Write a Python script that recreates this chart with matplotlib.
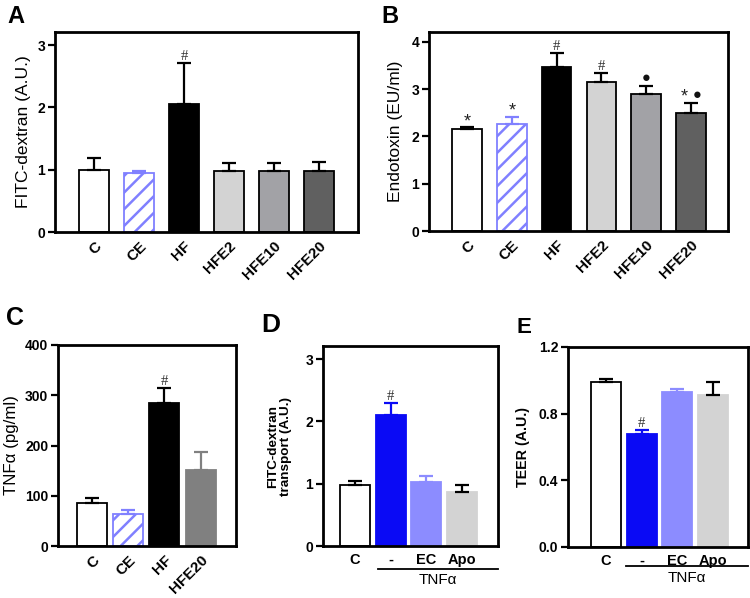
import matplotlib
matplotlib.use("Agg")
import matplotlib.pyplot as plt
import matplotlib.transforms as mtrans
import numpy as np

plt.rcParams['font.family'] = ['Liberation Sans', 'DejaVu Sans']

# ---------------- data ----------------
a_cats = ["C", "CE", "HF", "HFE2", "HFE10", "HFE20"]
a_vals = [1.00, 0.95, 2.05, 0.98, 0.98, 0.98]
a_errs = [0.18, 0.03, 0.67, 0.12, 0.13, 0.15]
a_marks = ["", "", "#", "", "", ""]

b_cats = ["C", "CE", "HF", "HFE2", "HFE10", "HFE20"]
b_vals = [2.15, 2.27, 3.48, 3.16, 2.89, 2.49]
b_errs = [0.04, 0.15, 0.28, 0.19, 0.17, 0.22]
b_marks = ["*", "*", "#", "#", "\u25CF", "*\u25CF"]

c_cats = ["C", "CE", "HF", "HFE20"]
c_vals = [85, 64, 284, 151]
c_errs = [11, 8, 31, 36]
c_marks = ["", "", "#", ""]

d_cats = ["C", "-", "EC", "Apo"]
d_vals = [0.98, 2.10, 1.02, 0.87]
d_errs = [0.07, 0.20, 0.10, 0.11]
d_marks = ["", "#", "", ""]

e_cats = ["C", "-", "EC", "Apo"]
e_vals = [0.99, 0.68, 0.93, 0.91]
e_errs = [0.02, 0.02, 0.02, 0.08]
e_marks = ["", "#", "", ""]

group_label = "TNF\u03b1"

W, H = 750, 598
fig = plt.figure(figsize=(W / 100, H / 100), dpi=100)


def add_ax(l, t, r, b):
    return fig.add_axes([l / W, 1 - b / H, (r - l) / W, (b - t) / H])


def style(ax, xlim, ylim, yticks, ylabel, ylabel_kw, labelpad, ytick_fs=10, fmt=None):
    ax.set_xlim(*xlim)
    ax.set_ylim(*ylim)
    ax.set_yticks(yticks)
    if fmt:
        ax.set_yticklabels([fmt.format(v) for v in yticks])
    for s in ax.spines.values():
        s.set_linewidth(2.0)
    ax.tick_params(axis='y', direction='out', length=5, width=1.6, labelsize=ytick_fs, pad=2)
    ax.tick_params(axis='x', length=0, pad=5)
    for lab in ax.get_yticklabels():
        lab.set_fontweight('bold')
    ax.set_ylabel(ylabel, labelpad=labelpad, **ylabel_kw)


def put_marks(ax, x, y, m):
    if m == "#":
        ax.text(x, y, m, ha='center', va='bottom', fontsize=10.5,
                family='Liberation Serif', color='#333333')
        return
    n = len(m)
    for k, ch in enumerate(m):
        dx = (k - (n - 1) / 2) * 9
        if ch == "*":
            ax.annotate(ch, (x, y), xytext=(dx, -2), textcoords='offset points',
                        ha='center', va='bottom', fontsize=13, color='#222222')
        else:
            ax.annotate(ch, (x, y), xytext=(dx, 1), textcoords='offset points',
                        ha='center', va='bottom', fontsize=10.5, color='#111111')


def draw_bars(ax, vals, errs, width, faces, edges, ecolors, hatches, marks):
    x = np.arange(len(vals))
    for i in range(len(vals)):
        ax.bar(x[i], vals[i], width=width, color=faces[i], edgecolor=edges[i],
               linewidth=1.3, hatch=hatches[i], zorder=2)
        ax.errorbar(x[i], vals[i], yerr=[[0], [errs[i]]], fmt='none',
                    ecolor=ecolors[i], elinewidth=1.6, capsize=5, capthick=1.6, zorder=3)
        if marks[i]:
            put_marks(ax, x[i], vals[i] + errs[i], marks[i])
    return x


plt.rcParams['hatch.color'] = '#B0B0FF'
plt.rcParams['hatch.linewidth'] = 1.8

six_faces = ['white', 'white', 'black', '#D3D3D3', '#A2A2A6', '#606060']
six_edges = ['black', '#8080FF', 'black', 'black', 'black', 'black']
six_ecol = ['black', '#8080FF', 'black', 'black', 'black', 'black']
six_hatch = [None, '//', None, None, None, None]

rot_kw = dict(rotation=45, ha='right', rotation_mode='anchor', fontweight='bold', fontsize=11)

# ---------------- Panel A ----------------
axA = add_ax(55, 32, 358, 232)
xa = draw_bars(axA, a_vals, a_errs, 0.67, six_faces, six_edges, six_ecol, six_hatch, a_marks)
style(axA, (-0.87, 5.87), (0, 3.21), [0, 1, 2, 3], "FITC-dextran (A.U.)", dict(fontsize=12.5), 5)
axA.set_xticks(xa)
axA.set_xticklabels(a_cats, **rot_kw)

# ---------------- Panel B ----------------
axB = add_ax(429, 32, 728, 231)
xb = draw_bars(axB, b_vals, b_errs, 0.66, six_faces, six_edges, six_ecol, six_hatch, b_marks)
style(axB, (-0.85, 5.83), (0, 4.21), [0, 1, 2, 3, 4], "Endotoxin (EU/ml)", dict(fontsize=12.5), 6)
axB.set_xticks(xb)
axB.set_xticklabels(b_cats, **rot_kw)

# ---------------- Panel C ----------------
axC = add_ax(58, 345, 236, 546)
c_faces = ['white', 'white', 'black', '#808080']
c_edges = ['black', '#8080FF', 'black', '#808080']
c_ecol = ['black', '#8080FF', 'black', '#808080']
c_hatch = [None, '//', None, None]
xc = draw_bars(axC, c_vals, c_errs, 0.83, c_faces, c_edges, c_ecol, c_hatch, c_marks)
style(axC, (-0.94, 3.98), (0, 400), [0, 100, 200, 300, 400], "TNF\u03b1 (pg/ml)",
      dict(fontsize=12.2), 4)
axC.set_xticks(xc)
axC.set_xticklabels(c_cats, **rot_kw)

# ---------------- Panel D ----------------
axD = add_ax(323, 346, 498, 546)
de_faces = ['white', '#0A0AF5', '#8C8CFF', '#D3D3D3']
de_edges = ['black', '#0A0AF5', '#8C8CFF', '#D3D3D3']
d_ecol = ['black', '#0A0AF5', '#8C8CFF', 'black']
de_hatch = [None, None, None, None]
xd = draw_bars(axD, d_vals, d_errs, 0.84, de_faces, de_edges, d_ecol, de_hatch, d_marks)
style(axD, (-0.89, 4.0), (0, 3.21), [0, 1, 2, 3], "FITC-dextran\ntransport (A.U.)",
      dict(fontsize=9.7, fontweight='bold', linespacing=1.05), 10)
axD.set_xticks(xd)
axD.set_xticklabels(d_cats, fontweight='bold', fontsize=10.5)

# ---------------- Panel E ----------------
axE = add_ax(568, 347, 748, 547)
e_ecol = ['black', '#0A0AF5', '#8C8CFF', 'black']
xe = draw_bars(axE, e_vals, e_errs, 0.84, de_faces, de_edges, e_ecol, de_hatch, e_marks)
style(axE, (-1.06, 3.98), (0, 1.2), [0, 0.4, 0.8, 1.2], "TEER (A.U.)",
      dict(fontsize=10.3, fontweight='bold'), 6, fmt="{:.1f}")
axE.set_xticks(xe)
axE.set_xticklabels(e_cats, fontweight='bold', fontsize=10.5)

# group bracket under "-", EC, Apo
for ax, x0, x1, ly, ty in [(axD, 0.65, 4.0, -0.115, -0.135), (axE, 0.56, 3.98, -0.095, -0.12)]:
    tr = mtrans.blended_transform_factory(ax.transData, ax.transAxes)
    ax.plot([x0, x1], [ly, ly], color='black', lw=1.3, transform=tr, clip_on=False)
    ax.text((x0 + x1) / 2, ty, group_label, transform=tr, ha='center', va='top', fontsize=11)

# panel letters (baseline positions)
for txt, x, y, fs in [("A", 7, 23, 17), ("B", 381, 23, 17), ("C", 6, 325, 18),
                      ("D", 261, 332, 19), ("E", 517, 333, 16)]:
    fig.text(x / W, 1 - y / H, txt, fontsize=fs, fontweight='bold', ha='left', va='baseline')

fig.savefig("out.png", dpi=100)
